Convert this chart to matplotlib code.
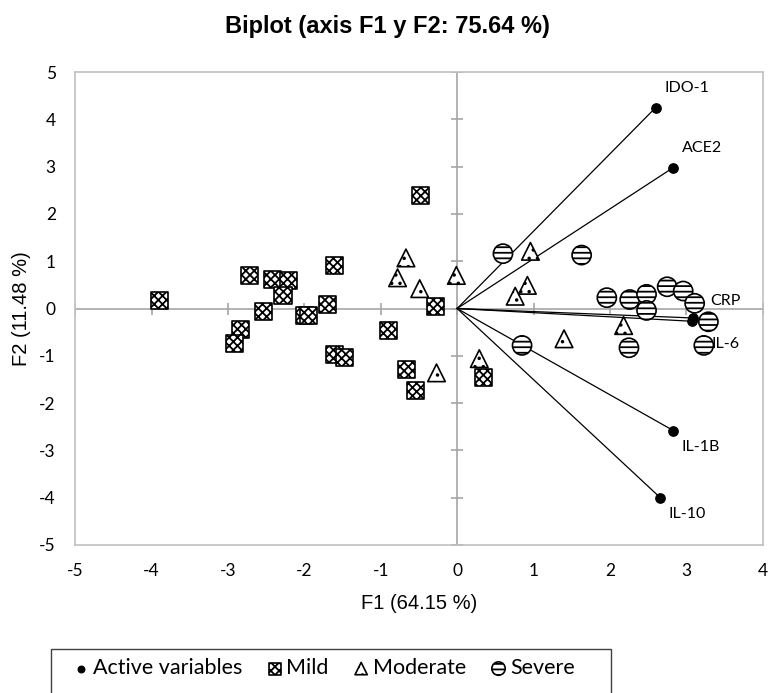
import numpy as np
import matplotlib.pyplot as plt
from matplotlib.patches import Rectangle

# active variables (loadings, scaled)
var_names = ['IDO-1', 'ACE2', 'CRP', 'IL-6', 'IL-1B', 'IL-10']
var_x = [2.60, 2.83, 3.09, 3.08, 2.83, 2.66]
var_y = [4.25, 2.98, -0.20, -0.27, -2.58, -4.00]

# observations
mild_x = [-3.90, -0.48, -2.72, -2.42, -2.21, -2.28, -1.61, -2.54, -1.70, -2.00,
          -1.94, -2.83, -2.92, -0.28, -0.90, -1.60, -1.47, -0.66, -0.55, 0.35]
mild_y = [0.18, 2.40, 0.70, 0.61, 0.60, 0.28, 0.92, -0.07, 0.08, -0.15,
          -0.15, -0.44, -0.75, 0.04, -0.47, -0.97, -1.04, -1.28, -1.73, -1.45]

moderate_x = [-0.67, -0.78, -0.49, -0.01, -0.27, 0.96, 0.92, 0.76, 2.18, 1.40, 0.29]
moderate_y = [1.07, 0.65, 0.42, 0.70, -1.36, 1.21, 0.49, 0.26, -0.36, -0.64, -1.06]

severe_x = [0.60, 1.63, 1.96, 2.26, 2.48, 2.48, 2.75, 2.96, 3.11, 3.29, 3.23, 2.25, 0.85]
severe_y = [1.16, 1.13, 0.23, 0.19, 0.30, -0.04, 0.46, 0.37, 0.11, -0.28, -0.78, -0.83, -0.78]

ticks = np.arange(-5, 6)
xticks = np.arange(-5, 5)

plt.rcParams['font.family'] = ['Lato', 'DejaVu Sans']
plt.rcParams['axes.unicode_minus'] = False
plt.rcParams['hatch.linewidth'] = 1.3

fig = plt.figure(figsize=(7.68, 6.93), dpi=100)
ax = fig.add_axes([0.098, 0.2136, 0.895, 0.6824])

grey = '#a6a6a6'
ax.axhline(0, color=grey, lw=1.2, zorder=1)
ax.axvline(0, color=grey, lw=1.2, zorder=1)
# small tick marks on the centre axes
ax.plot(np.zeros(len(ticks)), ticks, ls='none', marker='_', ms=9, mew=1.2, color=grey, zorder=1)
ax.plot(xticks, np.zeros(len(xticks)), ls='none', marker='|', ms=9, mew=1.2, color=grey, zorder=1)

for x, y in zip(var_x, var_y):
    ax.plot([0, x], [0, y], color='black', lw=0.9, zorder=2)

ax.scatter(var_x, var_y, s=45, color='black', zorder=4, label='Active variables')

ax.scatter(mild_x, mild_y, s=150, marker='s', facecolor='white', edgecolor='black',
           linewidths=1.2, hatch='xxxx', zorder=3, label='Mild')
ax.scatter(moderate_x, moderate_y, s=160, marker='^', facecolor='white', edgecolor='black',
           linewidths=1.2, hatch='..', zorder=3, label='Moderate')
ax.scatter(severe_x, severe_y, s=190, marker='o', facecolor='white', edgecolor='black',
           linewidths=1.2, hatch='---', zorder=3, label='Severe')

offsets = {'IDO-1': (6, 14), 'ACE2': (6, 14), 'CRP': (12, 12),
           'IL-6': (14, -16), 'IL-1B': (6, -12), 'IL-10': (6, -12)}
for name, x, y in zip(var_names, var_x, var_y):
    ax.annotate(name, (x, y), xytext=offsets[name], textcoords='offset points',
                fontsize=11.5, ha='left', va='center')

ax.set_xlim(-5, 4)
ax.set_ylim(-5, 5)
ax.set_xticks(xticks)
ax.set_yticks(ticks)
ax.tick_params(length=0, labelsize=12.5)
ax.tick_params(axis='x', pad=13)
ax.tick_params(axis='y', pad=14)
for s in ax.spines.values():
    s.set_color('#c0c0c0')
    s.set_linewidth(1.2)

ax.set_xlabel('F1 (64.15 %)', fontsize=14.5, family='Liberation Sans')
ax.xaxis.set_label_coords((421 - 76) / 689, -0.104)
ax.set_ylabel('F2 (11.48 %)', fontsize=14.5, family='Liberation Sans')
ax.yaxis.set_label_coords(-0.064, 0.5)
fig.text(0.504, 0.962, 'Biplot (axis F1 y F2: 75.64 %)', ha='center', va='center',
         fontsize=17, fontweight='bold', family='Liberation Sans')

leg = fig.legend(loc='upper left', bbox_to_anchor=(0.072, 1 - 641 / 693), ncol=4,
                 fontsize=15.5, frameon=False,
                 handletextpad=0.15, columnspacing=1.1, markerscale=0.7,
                 borderpad=0.3, handlelength=0.8, scatterpoints=1)
fig.patches.append(Rectangle((51 / 768, -0.05), 560 / 768, 0.05 + 1 - 649 / 693,
                             transform=fig.transFigure, fill=False,
                             edgecolor='#404040', lw=1.0))

fig.savefig('out.png', dpi=100)
